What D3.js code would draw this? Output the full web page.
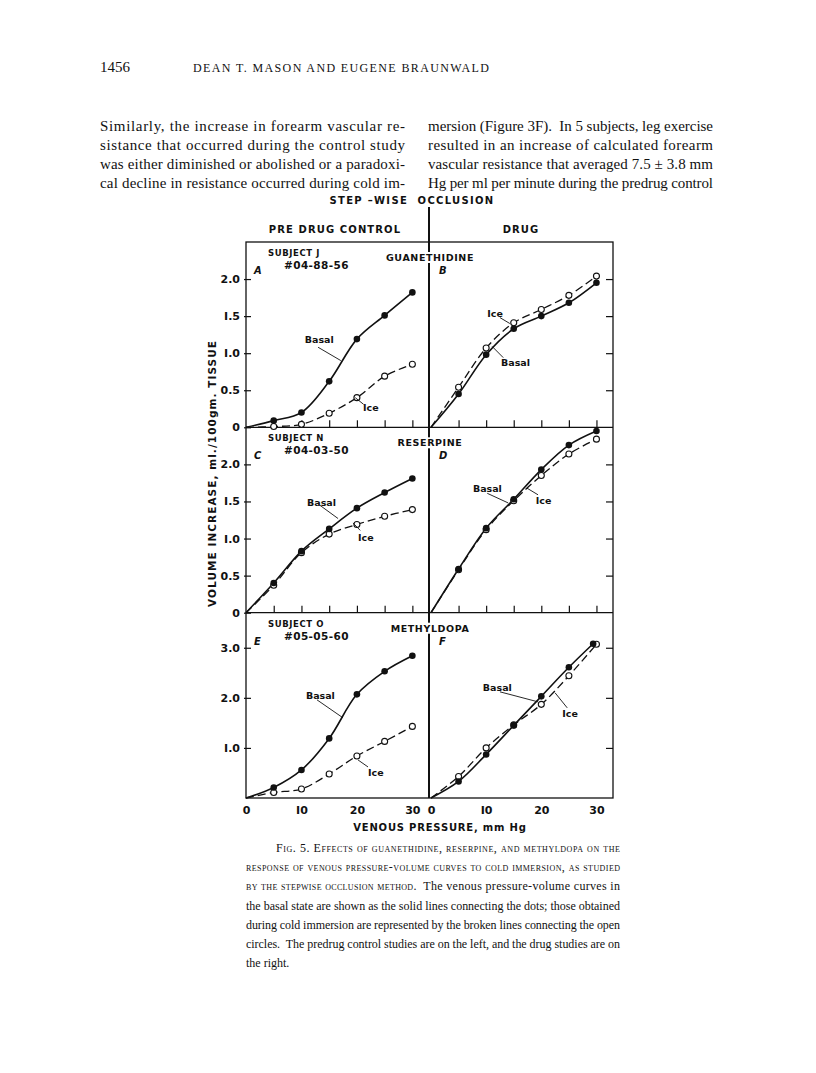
<!DOCTYPE html>
<html>
<head>
<meta charset="utf-8">
<script src="https://cdn.jsdelivr.net/npm/d3@7"></script>
<style>
  body { margin: 0; background: #fff; }
  .serif { font-family: "Liberation Serif", "DejaVu Serif", serif; fill: #111; }
  .ink { font-family: "DejaVu Sans", sans-serif; font-weight: bold; fill: #111; }
</style>
</head>
<body>
<svg id="page"></svg>
<script>
// venous pressure steps, mm Hg
var pressure = [0, 5, 10, 15, 20, 25, 30];
var pressureF = [0, 5, 10, 15, 20, 25, 29.4];

// volume increase, ml/100 gm tissue
var guanControlBasal = [0, 0.09, 0.20, 0.62, 1.19, 1.51, 1.82];
var guanControlIce   = [0, 0.01, 0.04, 0.19, 0.40, 0.69, 0.85];
var guanDrugBasal    = [0, 0.45, 0.98, 1.33, 1.50, 1.68, 1.95];
var guanDrugIce      = [0, 0.54, 1.07, 1.41, 1.59, 1.78, 2.04];
var resControlBasal  = [0, 0.40, 0.83, 1.13, 1.41, 1.62, 1.81];
var resControlIce    = [0, 0.37, 0.81, 1.06, 1.19, 1.30, 1.39];
var resDrugBasal     = [0, 0.59, 1.14, 1.53, 1.93, 2.26, 2.45];
var resDrugIce       = [0, 0.58, 1.12, 1.51, 1.85, 2.14, 2.34];
var metControlBasal  = [0, 0.21, 0.56, 1.19, 2.07, 2.53, 2.84];
var metControlIce    = [0, 0.11, 0.18, 0.48, 0.84, 1.13, 1.43];
var metDrugBasal     = [0, 0.33, 0.87, 1.45, 2.03, 2.61, 3.08];
var metDrugIce       = [0, 0.43, 1.00, 1.46, 1.87, 2.44, 3.07];

var drugs = ["GUANETHIDINE", "RESERPINE", "METHYLDOPA"];
var subjects = ["SUBJECT J", "SUBJECT N", "SUBJECT O"];
var subjectIds = ["#04-88-56", "#04-03-50", "#05-05-60"];
var panelLetters = [["A", "B"], ["C", "D"], ["E", "F"]];
var yTicksRow = [[0, 0.5, 1.0, 1.5, 2.0], [0, 0.5, 1.0, 1.5, 2.0], [1.0, 2.0, 3.0]];
var xTicks = [5, 10, 15, 20, 25, 30];
var xTickLabels = [0, 10, 20, 30];

var leftText = [
  "Similarly, the increase in forearm vascular re-",
  "sistance that occurred during the control study",
  "was either diminished or abolished or a paradoxi-",
  "cal decline in resistance occurred during cold im-"
];
var rightText = [
  "mersion (Figure 3F).  In 5 subjects, leg exercise",
  "resulted in an increase of calculated forearm",
  "vascular resistance that averaged 7.5 \u00b1 3.8 mm",
  "Hg per ml per minute during the predrug control"
];
var captionLines = [
  [["Fig. 5. Effects of guanethidine, reserpine, and methyldopa on the", true]],
  [["response of venous pressure-volume curves to cold immersion, as studied", true]],
  [["by the stepwise occlusion method.", true], ["  The venous pressure-volume curves in", false]],
  [["the basal state are shown as the solid lines connecting the dots; those obtained", false]],
  [["during cold immersion are represented by the broken lines connecting the open", false]],
  [["circles.  The predrug control studies are on the left, and the drug studies are on", false]],
  [["the right.", false]]
];

var svg = d3.select("#page")
  .attr("width", 816)
  .attr("height", 1073);

svg.append("rect").attr("width", 816).attr("height", 1073).attr("fill", "#fff");

// ---------- page text ----------
svg.append("text").attr("class", "serif")
  .attr("x", 100).attr("y", 72)
  .attr("font-size", 15)
  .text("1456");

svg.append("text").attr("class", "serif")
  .attr("x", 193).attr("y", 72)
  .attr("font-size", 12)
  .attr("textLength", 296)
  .attr("lengthAdjust", "spacing")
  .text("DEAN T. MASON AND EUGENE BRAUNWALD");

function column(lines, x0, w) {
  lines.forEach(function(l, i) {
    svg.append("text").attr("class", "serif")
      .attr("x", x0).attr("y", 131 + i * 19)
      .attr("font-size", 15)
      .attr("textLength", w)
      .attr("lengthAdjust", "spacing")
      .style("white-space", "pre")
      .text(l);
  });
}
column(leftText, 100, 305);
column(rightText, 428, 285);

// ---------- figure frame ----------
var L = 246, R = 613, D = 429;
var rowTop = [242, 427.3, 612.7];
var rowBot = [427.3, 612.7, 798];
var yMax = [2.5, 2.5, 3.7];

var xLeft = d3.scaleLinear().domain([0, 33]).range([L, D]);
var xRight = d3.scaleLinear().domain([0, 33]).range([431, R]);

var line = d3.line()
  .x(function(d) { return d.sx; })
  .y(function(d) { return d.sy; })
  .curve(d3.curveCatmullRom.alpha(0.5));

var panels = [
  {row: 0, side: 0, basal: guanControlBasal, ice: guanControlIce, xb: pressure,
    ann: {b: [10.6, 1.14], bl: [[13.0, 1.08], [17.1, 0.90]], i: [21.1, 0.22], il: [[19.7, 0.40], [21.2, 0.31]]}},
  {row: 0, side: 1, basal: guanDrugBasal, ice: guanDrugIce, xb: pressure,
    ann: {b: [12.7, 0.83], bl: [[11.1, 1.09], [13.1, 0.94]], i: [10.2, 1.49], il: [[12.5, 1.48], [14.3, 1.40]]}},
  {row: 1, side: 0, basal: resControlBasal, ice: resControlIce, xb: pressure,
    ann: {b: [11.0, 1.44], bl: [[13.3, 1.45], [16.6, 1.27]], i: [20.2, 0.97], il: [[19.3, 1.21], [20.6, 1.11]]}},
  {row: 1, side: 1, basal: resDrugBasal, ice: resDrugIce, xb: pressure,
    ann: {b: [7.6, 1.63], bl: [[10.2, 1.61], [14.0, 1.48]], i: [19.0, 1.47], il: [[17.4, 1.68], [19.4, 1.59]]}},
  {row: 2, side: 0, basal: metControlBasal, ice: metControlIce, xb: pressure,
    ann: {b: [10.8, 1.98], bl: [[12.8, 1.96], [17.5, 1.60]], i: [22.0, 0.44], il: [[20.2, 0.76], [22.0, 0.62]]}},
  {row: 2, side: 1, basal: metDrugBasal, ice: metDrugIce, xb: pressureF,
    ann: {b: [9.4, 2.14], bl: [[12.5, 2.12], [19.4, 1.92]], i: [23.8, 1.62], il: [[22.5, 2.10], [24.7, 1.80]]}}
];

// outer box and row lines
svg.append("rect")
  .attr("x", L).attr("y", rowTop[0])
  .attr("width", R - L).attr("height", rowBot[2] - rowTop[0])
  .attr("fill", "none").attr("stroke", "#111").attr("stroke-width", 1.3);
[rowBot[0], rowBot[1]].forEach(function(y) {
  svg.append("line").attr("x1", L).attr("x2", R).attr("y1", y).attr("y2", y)
    .attr("stroke", "#111").attr("stroke-width", 1.3);
});
svg.append("line").attr("x1", D).attr("x2", D).attr("y1", 207).attr("y2", rowBot[2])
  .attr("stroke", "#111").attr("stroke-width", 2);

// headings
svg.append("text").attr("class", "ink")
  .attr("x", 412).attr("y", 204)
  .attr("text-anchor", "middle")
  .attr("font-size", 10)
  .attr("letter-spacing", 1.3)
  .style("white-space", "pre")
  .text("STEP \u2013WISE  OCCLUSION");
svg.append("text").attr("class", "ink")
  .attr("x", 335).attr("y", 233)
  .attr("text-anchor", "middle")
  .attr("font-size", 10)
  .attr("letter-spacing", 1.1)
  .text("PRE DRUG CONTROL");
svg.append("text").attr("class", "ink")
  .attr("x", 521).attr("y", 233)
  .attr("text-anchor", "middle")
  .attr("font-size", 10)
  .attr("letter-spacing", 1.1)
  .text("DRUG");

// y axis title
svg.append("text").attr("class", "ink")
  .attr("transform", "translate(216, 474) rotate(-90)")
  .attr("text-anchor", "middle")
  .attr("font-size", 10.5)
  .attr("textLength", 266)
  .attr("lengthAdjust", "spacing")
  .text("VOLUME INCREASE, ml./100gm. TISSUE");

// x axis title
svg.append("text").attr("class", "ink")
  .attr("x", 440).attr("y", 831)
  .attr("text-anchor", "middle")
  .attr("font-size", 10)
  .attr("letter-spacing", 0.8)
  .text("VENOUS PRESSURE, mm Hg");

// ---------- panels ----------
panels.forEach(function(p) {
  var x = p.side === 0 ? xLeft : xRight;
  var y = d3.scaleLinear().domain([0, yMax[p.row]]).range([rowBot[p.row], rowTop[p.row]]);
  var g = svg.append("g");

  // y ticks
  if (p.side === 0) {
    var ya = d3.axisLeft(y).tickValues(yTicksRow[p.row]).tickSize(-7).tickPadding(4)
      .tickFormat(function(d) { return d === 0 ? "0" : d3.format(".1f")(d).replace(/^1/, "I"); });
    var yg = g.append("g").attr("transform", "translate(" + (L - 2) + ",0)").call(ya);
    yg.select(".domain").remove();
    yg.selectAll("text").attr("class", "ink").attr("font-size", 11).attr("font-family", null);
  } else {
    var yb = d3.axisLeft(y).tickValues(yTicksRow[p.row].filter(function(d) { return d > 0; }))
      .tickSize(7).tickFormat("");
    var ybg = g.append("g").attr("transform", "translate(" + R + ",0)").call(yb);
    ybg.select(".domain").remove();
  }

  // x ticks
  if (p.row < 2) {
    var xa = d3.axisBottom(x).tickValues(xTicks).tickSize(-7).tickFormat("");
    var xg = g.append("g").attr("transform", "translate(0," + rowBot[p.row] + ")").call(xa);
    xg.select(".domain").remove();
  } else {
    var xl = d3.axisBottom(x).tickValues(xTickLabels).tickSize(0).tickPadding(8)
      .tickFormat(function(d) { return String(d).replace(/1/g, "I"); });
    var xlg = g.append("g").attr("transform", "translate(0," + rowBot[p.row] + ")").call(xl);
    xlg.select(".domain").remove();
    xlg.selectAll("text").attr("class", "ink").attr("font-size", 11).attr("font-family", null);
  }
  g.selectAll(".tick line").attr("stroke", "#111").attr("stroke-width", 1.2);

  var basalPts = p.basal.map(function(v, i) { return {sx: x(p.xb[i]), sy: y(v)}; });
  var icePts = p.ice.map(function(v, i) { return {sx: x(pressure[i]), sy: y(v)}; });

  g.append("path").attr("d", line(icePts))
    .attr("fill", "none").attr("stroke", "#111").attr("stroke-width", 1.3)
    .attr("stroke-dasharray", "8,4");
  g.append("path").attr("d", line(basalPts))
    .attr("fill", "none").attr("stroke", "#111").attr("stroke-width", 1.6);

  g.selectAll("circle.ice").data(icePts.slice(1)).enter()
    .append("circle").attr("class", "ice")
    .attr("cx", function(d) { return d.sx; })
    .attr("cy", function(d) { return d.sy; })
    .attr("r", 3).attr("fill", "#fff").attr("stroke", "#111").attr("stroke-width", 1.1);
  g.selectAll("circle.basal").data(basalPts.slice(1)).enter()
    .append("circle").attr("class", "basal")
    .attr("cx", function(d) { return d.sx; })
    .attr("cy", function(d) { return d.sy; })
    .attr("r", 3.3).attr("fill", "#111");

  // annotations
  var a = p.ann;
  [a.bl, a.il].forEach(function(seg) {
    g.append("line")
      .attr("x1", x(seg[0][0])).attr("y1", y(seg[0][1]))
      .attr("x2", x(seg[1][0])).attr("y2", y(seg[1][1]))
      .attr("stroke", "#111").attr("stroke-width", 0.9);
  });
  g.append("text").attr("class", "ink").attr("font-size", 9.5)
    .attr("x", x(a.b[0])).attr("y", y(a.b[1])).text("Basal");
  g.append("text").attr("class", "ink").attr("font-size", 9.5)
    .attr("x", x(a.i[0])).attr("y", y(a.i[1])).text("Ice");

  // panel letter
  g.append("text").attr("class", "ink")
    .attr("x", (p.side === 0 ? L : 431) + 8).attr("y", rowTop[p.row] + 32)
    .attr("font-size", 10).attr("font-style", "italic").attr("font-weight", "normal")
    .text(panelLetters[p.row][p.side]);

  if (p.side === 0) {
    g.append("text").attr("class", "ink")
      .attr("x", L + 22).attr("y", rowTop[p.row] + 14)
      .attr("font-size", 8.5).attr("letter-spacing", 0.6)
      .text(subjects[p.row]);
    g.append("text").attr("class", "ink")
      .attr("x", L + 38).attr("y", rowTop[p.row] + 27)
      .attr("font-size", 10.5).attr("letter-spacing", 0.4)
      .text(subjectIds[p.row]);

    var dt = g.append("text").attr("class", "ink")
      .attr("x", D + 1).attr("y", rowTop[p.row] + 19)
      .attr("text-anchor", "middle")
      .attr("font-size", 9.5).attr("letter-spacing", 0.6)
      .text(drugs[p.row]);
    var bb = dt.node().getBBox();
    g.insert("rect", function() { return dt.node(); })
      .attr("x", D - 4).attr("y", bb.y).attr("width", 8).attr("height", bb.height)
      .attr("fill", "#fff");
  }
});

// ---------- caption ----------
captionLines.forEach(function(segs, i) {
  var last = i === captionLines.length - 1;
  var x0 = i === 0 ? 276 : 246;
  var t = svg.append("text").attr("class", "serif")
    .attr("x", x0).attr("y", 852 + i * 19.2)
    .attr("font-size", 12)
    .style("white-space", "pre");
  if (!last) t.attr("textLength", 620 - x0).attr("lengthAdjust", "spacing");
  segs.forEach(function(s) {
    t.append("tspan").style("font-variant", s[1] ? "small-caps" : "normal").text(s[0]);
  });
});
</script>
</body>
</html>
